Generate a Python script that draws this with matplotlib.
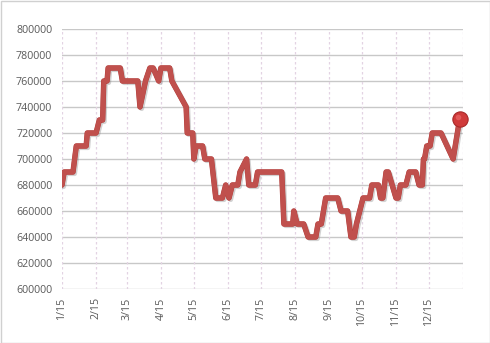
import matplotlib
matplotlib.use("Agg")
import matplotlib.pyplot as plt
import matplotlib.patheffects as pe
from matplotlib.patches import Rectangle

# Days counted from 1/15
days = [0, 2, 10, 13, 22, 23, 31, 34, 37, 38, 41, 42, 53, 55, 69, 71, 76, 80, 83, 88,
        90, 98, 100, 113, 114, 119, 120, 122, 128, 130, 136, 140, 146, 149, 152, 155,
        160, 162, 168, 170, 176, 178, 200, 202, 210, 211, 214, 220, 224, 231, 233, 236,
        238, 240, 251, 254, 260, 263, 266, 268, 274, 280, 282, 288, 290, 292, 295, 297,
        304, 306, 308, 313, 316, 322, 325, 328, 329, 330, 332, 335, 337, 345, 356, 362]
values = [680000, 690000, 690000, 710000, 710000, 720000, 720000, 730000, 730000, 760000,
          760000, 770000, 770000, 760000, 760000, 740000, 760000, 770000, 770000, 760000,
          770000, 770000, 760000, 740000, 720000, 720000, 700000, 710000, 710000, 700000,
          700000, 670000, 670000, 680000, 670000, 680000, 680000, 690000, 700000, 680000,
          680000, 690000, 690000, 650000, 650000, 660000, 650000, 650000, 640000, 640000,
          650000, 650000, 660000, 670000, 670000, 660000, 660000, 640000, 640000, 650000,
          670000, 670000, 680000, 680000, 670000, 670000, 690000, 690000, 670000, 670000,
          680000, 680000, 690000, 690000, 680000, 680000, 700000, 700000, 710000, 710000,
          720000, 720000, 700000, 731000]

tick_days = [0, 31, 59, 90, 120, 151, 181, 212, 243, 273, 304, 334, 365]
tick_labels = ["1/15", "2/15", "3/15", "4/15", "5/15", "6/15", "7/15", "8/15",
               "9/15", "10/15", "11/15", "12/15", ""]
y_ticks = [600000, 620000, 640000, 660000, 680000, 700000, 720000, 740000,
           760000, 780000, 800000]

plt.rcParams['font.family'] = ['Open Sans', 'DejaVu Sans']

fig = plt.figure(figsize=(4.9, 3.43), dpi=100)
ax = fig.add_axes([62/490, 1-289/343, (463-62)/490, (289-29)/343])

ax.set_xlim(0, 365)
ax.set_ylim(600000, 800000)
ax.set_yticks(y_ticks)
ax.set_yticklabels([str(v) for v in y_ticks])
ax.set_xticks(tick_days)
ax.set_xticklabels(tick_labels, rotation=90)

for v in y_ticks:
    ax.axhline(v, color='#c8c8c8', lw=1.0, zorder=1)
for d in tick_days:
    ax.axvline(d, color='#e3d3e3', lw=0.9, ls=(0, (2, 2)), zorder=1)

for s in ax.spines.values():
    s.set_visible(False)
ax.tick_params(axis='both', length=0, labelsize=7.7, colors='#595959')
ax.tick_params(axis='y', pad=7)
ax.tick_params(axis='x', pad=6)

line, = ax.plot(days, values, color='#c0504d', lw=3.5, solid_joinstyle='round',
                solid_capstyle='round', zorder=3)
line.set_path_effects([pe.SimpleLineShadow(offset=(1.2, -1.2), shadow_color='#808080', alpha=0.35),
                       pe.Stroke(linewidth=3.9, foreground='#b03a37'),
                       pe.Normal()])

ax.plot(days[-1:], values[-1:], 'o', ms=11, color='#d03a3a', mec='#a82828', mew=0.8,
        zorder=5, clip_on=False)
ax.plot(days[-1:], values[-1:], 'o', ms=4, color='#f07070', mec='none', alpha=0.6,
        zorder=6, clip_on=False,
        transform=ax.transData + matplotlib.transforms.ScaledTranslation(-2/100, 2/100, fig.dpi_scale_trans))

fig.patches.append(Rectangle((0.5/490, 0.5/343), 1-1/490, 1-1/343, transform=fig.transFigure,
                             fill=False, ec='#d0d0d0', lw=1.0))

fig.savefig("out.png", dpi=100)
